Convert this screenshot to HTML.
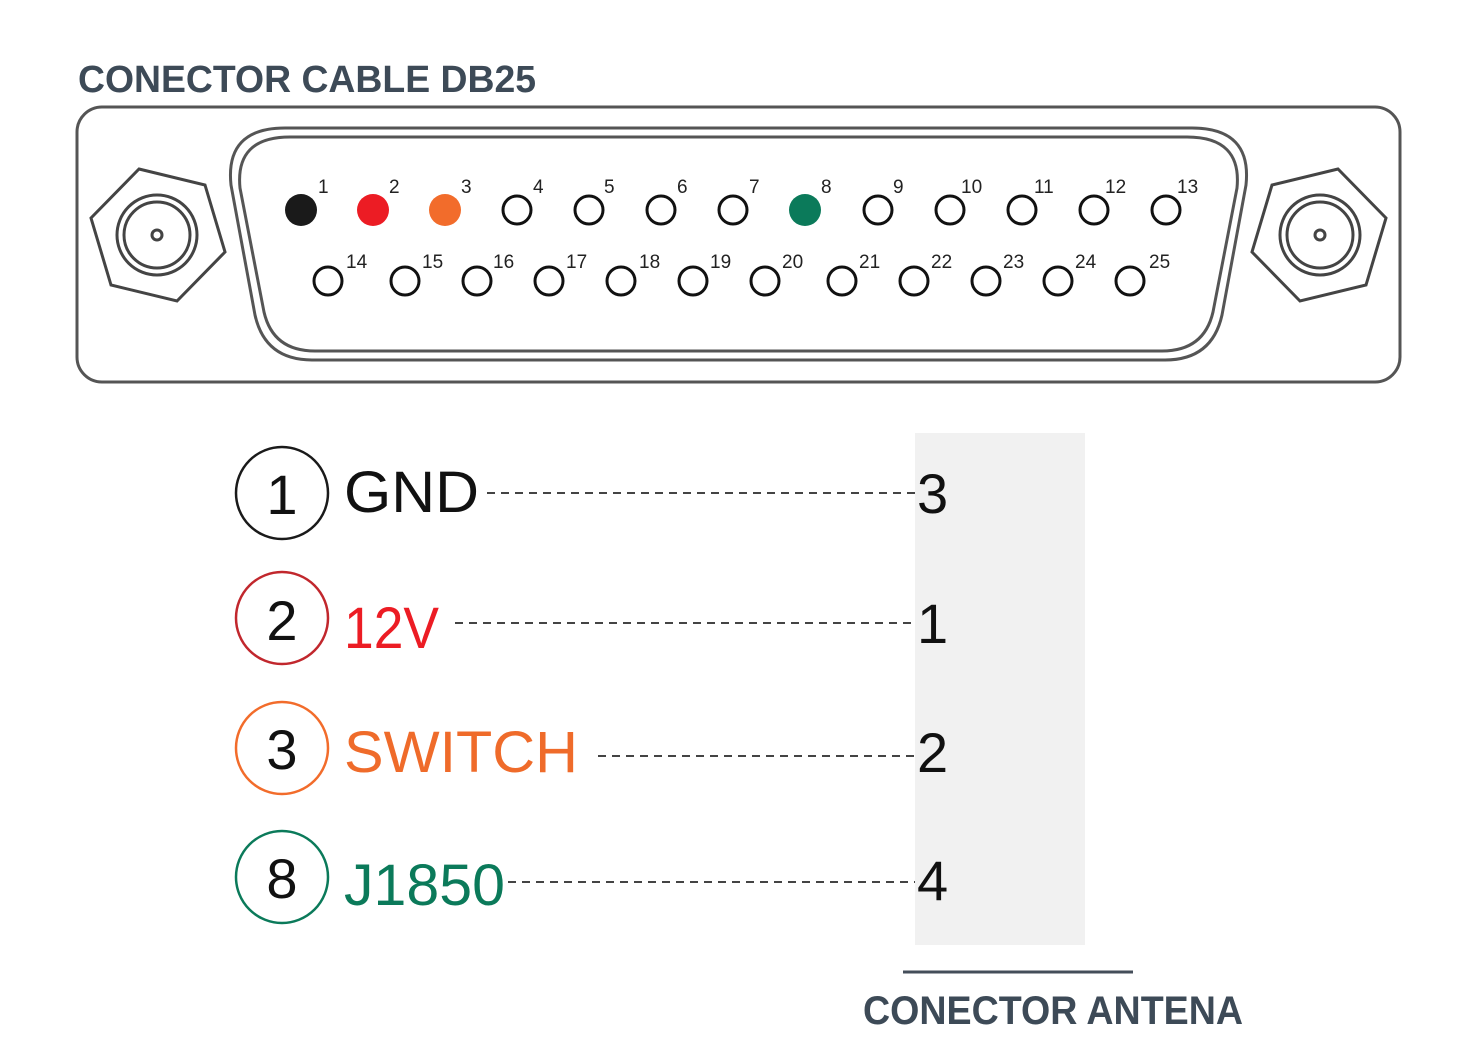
<!DOCTYPE html>
<html><head><meta charset="utf-8"><style>
body{margin:0;background:#fff}
svg{display:block}
text{font-family:"Liberation Sans",sans-serif}
</style></head><body>
<svg width="1478" height="1057" viewBox="0 0 1478 1057" xmlns="http://www.w3.org/2000/svg">
<text x="78" y="92" font-size="38" fill="#3d4a57" font-weight="bold" textLength="458" lengthAdjust="spacingAndGlyphs" style="font-weight:600">CONECTOR CABLE DB25</text>
<rect x="77" y="107" width="1323" height="275" rx="25" fill="none" stroke="#555" stroke-width="3"/>
<path d="M285,128 L1192,128 Q1252,128 1246,185 L1222,315 Q1212,360 1165,360 L312,360 Q265,360 255,315 L231,185 Q225,128 285,128 Z" fill="none" stroke="#555" stroke-width="3"/>
<path d="M290,137 L1187,137 Q1242,137 1237,188 L1213,312 Q1204,351 1162,351 L315,351 Q273,351 264,312 L240,188 Q235,137 290,137 Z" fill="none" stroke="#555" stroke-width="3"/>
<g fill="none" stroke="#444" stroke-width="3">
<polygon points="139,169 205,185 225,252 177,301 111,285 91,218"/>
<circle cx="157" cy="235" r="40"/><circle cx="157" cy="235" r="33"/><circle cx="157" cy="235" r="5"/>
<polygon points="1338,169 1272,185 1252,252 1300,301 1366,285 1386,218"/>
<circle cx="1320" cy="235" r="40"/><circle cx="1320" cy="235" r="33"/><circle cx="1320" cy="235" r="5"/>
</g>
<g fill="none" stroke="#111" stroke-width="3">
<circle cx="517" cy="210" r="14"/><circle cx="589" cy="210" r="14"/><circle cx="661" cy="210" r="14"/><circle cx="733" cy="210" r="14"/><circle cx="878" cy="210" r="14"/><circle cx="950" cy="210" r="14"/><circle cx="1022" cy="210" r="14"/><circle cx="1094" cy="210" r="14"/><circle cx="1166" cy="210" r="14"/>
<circle cx="328" cy="281" r="14"/><circle cx="405" cy="281" r="14"/><circle cx="477" cy="281" r="14"/><circle cx="549" cy="281" r="14"/><circle cx="621" cy="281" r="14"/><circle cx="693" cy="281" r="14"/><circle cx="765" cy="281" r="14"/><circle cx="842" cy="281" r="14"/><circle cx="914" cy="281" r="14"/><circle cx="986" cy="281" r="14"/><circle cx="1058" cy="281" r="14"/><circle cx="1130" cy="281" r="14"/>
</g>
<circle cx="301" cy="210" r="16" fill="#1a1a1a"/><circle cx="373" cy="210" r="16" fill="#ec1c24"/><circle cx="445" cy="210" r="16" fill="#f26c2b"/><circle cx="805" cy="210" r="16" fill="#0b7a5a"/>
<g font-size="19" fill="#222">
<text x="318" y="193">1</text><text x="389" y="193">2</text><text x="461" y="193">3</text><text x="533" y="193">4</text><text x="604" y="193">5</text><text x="677" y="193">6</text><text x="749" y="193">7</text><text x="821" y="193">8</text><text x="893" y="193">9</text><text x="961" y="193">10</text><text x="1034" y="193">11</text><text x="1105" y="193">12</text><text x="1177" y="193">13</text>
<text x="346" y="268">14</text><text x="422" y="268">15</text><text x="493" y="268">16</text><text x="566" y="268">17</text><text x="639" y="268">18</text><text x="710" y="268">19</text><text x="782" y="268">20</text><text x="859" y="268">21</text><text x="931" y="268">22</text><text x="1003" y="268">23</text><text x="1075" y="268">24</text><text x="1149" y="268">25</text>
</g>
<rect x="915" y="433" width="170" height="512" fill="#f1f1f1"/>
<g fill="none" stroke-width="2.5">
<circle cx="282" cy="493" r="46" stroke="#1a1a1a"/>
<circle cx="282" cy="618" r="46" stroke="#c1272d"/>
<circle cx="282" cy="748" r="46" stroke="#f26c2b"/>
<circle cx="282" cy="877" r="46" stroke="#0b7a5a"/>
</g>
<g font-size="56" fill="#111" text-anchor="middle">
<text x="282" y="514">1</text><text x="282" y="640">2</text><text x="282" y="769">3</text><text x="282" y="898">8</text>
</g>
<g font-size="58">
<text x="344" y="512" fill="#111" textLength="135" lengthAdjust="spacingAndGlyphs">GND</text>
<text x="344" y="648" fill="#ec1c24" textLength="95" lengthAdjust="spacingAndGlyphs">12V</text>
<text x="344" y="772" fill="#ef6b2a" textLength="234" lengthAdjust="spacingAndGlyphs">SWITCH</text>
<text x="344" y="905" fill="#0b7a5a" textLength="161" lengthAdjust="spacingAndGlyphs">J1850</text>
</g>
<g stroke="#444" stroke-width="2" stroke-dasharray="8,6">
<line x1="487" y1="493" x2="915" y2="493"/>
<line x1="455" y1="623" x2="915" y2="623"/>
<line x1="598" y1="756" x2="915" y2="756"/>
<line x1="508" y1="882" x2="915" y2="882"/>
</g>
<g font-size="56" fill="#111">
<text x="917" y="513">3</text><text x="917" y="643">1</text><text x="917" y="772">2</text><text x="917" y="900">4</text>
</g>
<line x1="903" y1="972" x2="1133" y2="972" stroke="#444e5a" stroke-width="3"/>
<text x="863" y="1024" font-size="40" fill="#3d4a57" style="font-weight:600" textLength="380" lengthAdjust="spacingAndGlyphs">CONECTOR ANTENA</text>
</svg>
</body></html>
